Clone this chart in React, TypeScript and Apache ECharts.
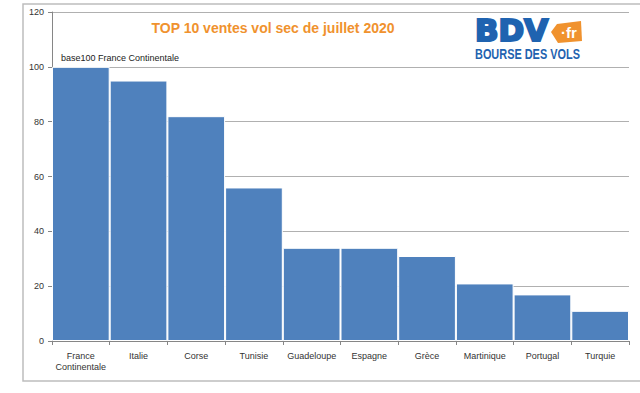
import React, { useEffect, useRef } from "react";
import * as echarts from "echarts";

const categories = [
  "France\nContinentale",
  "Italie",
  "Corse",
  "Tunisie",
  "Guadeloupe",
  "Espagne",
  "Grèce",
  "Martinique",
  "Portugal",
  "Turquie",
];
const values = [100, 95, 82, 56, 34, 34, 31, 21, 17, 11];
const titleText = "TOP 10 ventes vol sec de juillet 2020";
const noteText = "base100 France Continentale";

export default function App() {
  const ref = useRef<HTMLDivElement>(null);
  useEffect(() => {
    if (!ref.current) return;
    const chart = echarts.init(ref.current, undefined, { renderer: "svg" });
    const blue = "#1F63B0";
    const orange = "#F0922E";
    chart.setOption({
      animation: false,
      backgroundColor: "#ffffff",
      textStyle: { fontFamily: "Liberation Sans" },
      grid: { left: 52, right: 11, top: 12, bottom: 52, containLabel: false },
      xAxis: {
        type: "category",
        data: categories,
        boundaryGap: true,
        axisLine: { lineStyle: { color: "#868686", width: 1 } },
        axisTick: { show: true, length: 4, interval: 0, alignWithLabel: false, lineStyle: { color: "#868686" } },
        axisLabel: { interval: 0, color: "#333", fontSize: 9, margin: 9, lineHeight: 11, fontFamily: "Liberation Sans" },
      },
      yAxis: {
        type: "value",
        min: 0,
        max: 120,
        interval: 20,
        axisLine: { show: true, lineStyle: { color: "#868686", width: 1 } },
        axisTick: { show: true, length: 4, lineStyle: { color: "#868686" } },
        axisLabel: { color: "#333", fontSize: 9, margin: 8, fontFamily: "Liberation Sans" },
        splitLine: { show: true, lineStyle: { color: "#B0B0B0", width: 1 } },
      },
      series: [
        {
          type: "bar",
          data: values,
          barCategoryGap: 0,
          itemStyle: { color: "#4F81BD", borderColor: "#ffffff", borderWidth: 1 },
        },
      ],
      graphic: [
        {
          type: "rect",
          silent: true,
          shape: { x: 23, y: 4, width: 640, height: 377 },
          style: { fill: "none", stroke: "#BDBDBD", lineWidth: 1.5 },
        },
        {
          type: "text",
          x: 273,
          y: 28,
          style: {
            text: titleText,
            fill: orange,
            font: "bold 14px 'Liberation Sans'",
            textAlign: "center",
            textVerticalAlign: "middle",
          },
        },
        {
          type: "text",
          x: 61,
          y: 58,
          style: {
            text: noteText,
            fill: "#222",
            font: "9px 'Liberation Sans'",
            textAlign: "left",
            textVerticalAlign: "middle",
          },
        },
        {
          type: "text",
          x: 475,
          y: 31,
          scaleX: 1.03,
          scaleY: 1,
          style: {
            text: "BDV",
            fill: blue,
            stroke: blue,
            lineWidth: 2.2,
            fontFamily: "DejaVu Sans",
            fontWeight: "bold",
            fontSize: 30,
            textAlign: "left",
            textVerticalAlign: "middle",
          },
        },
        {
          type: "polygon",
          shape: {
            points: [
              [551, 32],
              [557, 24],
              [581, 21],
              [582, 41],
              [558, 43],
            ],
          },
          style: { fill: orange },
        },
        {
          type: "text",
          x: 569,
          y: 32,
          style: {
            text: "·fr",
            fill: "#ffffff",
            font: "bold 15px 'Liberation Sans'",
            textAlign: "center",
            textVerticalAlign: "middle",
          },
        },
        {
          type: "text",
          x: 475,
          y: 55,
          scaleX: 0.78,
          scaleY: 1,
          style: {
            text: "BOURSE DES VOLS",
            fill: blue,
            font: "bold 14px 'Liberation Sans'",
            textAlign: "left",
            textVerticalAlign: "middle",
          },
        },
      ],
    });
    return () => chart.dispose();
  }, []);
  return (
    <div
      ref={ref}
      style={{ position: "fixed", left: 0, top: 0, width: 640, height: 393 }}
    />
  );
}
